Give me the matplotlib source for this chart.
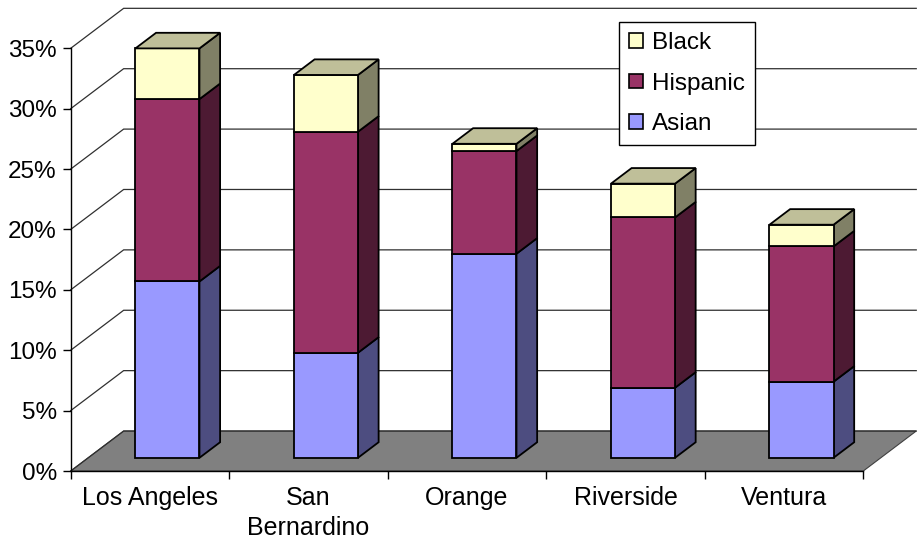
import matplotlib
matplotlib.use("Agg")
import matplotlib.pyplot as plt
from matplotlib.patches import Polygon, Patch
from matplotlib.ticker import FixedLocator, FuncFormatter, NullFormatter

plt.rcParams["font.family"] = ["Liberation Sans", "DejaVu Sans"]

# Share of population by group, percent
counties = ["Los Angeles", "San\nBernardino", "Orange", "Riverside", "Ventura"]
asian = [14.6, 8.7, 16.9, 5.8, 6.3]
hispanic = [15.1, 18.3, 8.5, 14.1, 11.2]
black = [4.2, 4.7, 0.6, 2.8, 1.8]
y_ticks = [0, 5, 10, 15, 20, 25, 30, 35]

series = [
    ("Asian", asian, "#9999FF", "#4D4D80", None),
    ("Hispanic", hispanic, "#993366", "#4D1A33", None),
    ("Black", black, "#FFFFCC", "#808066", "#BFBF99"),
]

# oblique depth of the floor, in data units (categories, percent)
DX, DY = 0.334, 3.31
F0, F1 = 0.33, 0.72          # front and back of the bars within the depth
HALF = 0.202                 # half bar width
FS = 17.5

W, H = 919, 541
fig = plt.figure(figsize=(W / 100, H / 100), dpi=100)
ax = fig.add_axes([70.7 / W, (H - 471) / H, (863.3 - 70.7) / W, (471 - 48.3) / H])
ax.set_xlim(0, len(counties))
ax.set_ylim(0, 35)
ax.patch.set_visible(False)

n = len(counties)

# floor
ax.add_patch(Polygon([(0, 0), (n, 0), (n + DX, DY), (DX, DY)], closed=True,
                     facecolor="#808080", edgecolor="#404040", lw=0.8,
                     zorder=0.5, clip_on=False))

# gridlines: diagonal on the side, then across the back wall
for v in y_ticks:
    ax.plot([0, DX, n + DX], [v, v + DY, v + DY], color="#303030", lw=0.9,
            zorder=0.6, clip_on=False, solid_joinstyle="miter")


def shift(x, y, f):
    return (x + f * DX, y + f * DY)


for i in range(n):
    xl, xr = i + 0.5 - HALF, i + 0.5 + HALF
    base = 0.0
    for k, (name, vals, front, side, top) in enumerate(series):
        y0, y1 = base, base + vals[i]
        ax.add_patch(Polygon([shift(xr, y0, F0), shift(xr, y0, F1),
                              shift(xr, y1, F1), shift(xr, y1, F0)],
                             closed=True, facecolor=side, edgecolor="black",
                             lw=1.3, zorder=3, clip_on=False, joinstyle="miter"))
        ax.add_patch(Polygon([shift(xl, y0, F0), shift(xr, y0, F0),
                              shift(xr, y1, F0), shift(xl, y1, F0)],
                             closed=True, facecolor=front, edgecolor="black",
                             lw=1.3, zorder=3.1, clip_on=False, joinstyle="miter"))
        if top is not None:
            ax.add_patch(Polygon([shift(xl, y1, F0), shift(xr, y1, F0),
                                  shift(xr, y1, F1), shift(xl, y1, F1)],
                                 closed=True, facecolor=top, edgecolor="black",
                                 lw=1.3, zorder=3.2, clip_on=False,
                                 joinstyle="miter"))
        base = y1

# axes
for s in ("top", "right"):
    ax.spines[s].set_visible(False)
for s in ("left", "bottom"):
    ax.spines[s].set_color("black")
    ax.spines[s].set_linewidth(1.0)
    ax.spines[s].set_zorder(4)

ax.yaxis.set_major_locator(FixedLocator(y_ticks))
ax.yaxis.set_major_formatter(FuncFormatter(lambda v, p: f"{v:.0f}%"))
ax.tick_params(axis="y", which="major", direction="out", length=5.5,
               width=1.0, pad=4.5, labelsize=FS, colors="black")

ax.xaxis.set_major_locator(FixedLocator(list(range(n + 1))))
ax.xaxis.set_major_formatter(NullFormatter())
ax.xaxis.set_minor_locator(FixedLocator([i + 0.5 for i in range(n)]))
ax.set_xticklabels(counties, minor=True, fontsize=18, linespacing=1.28)
ax.tick_params(axis="x", which="major", direction="out", length=5.5, width=1.0)
ax.tick_params(axis="x", which="minor", length=0, pad=11)

handles = [Patch(facecolor=fc, edgecolor="black", lw=1.2, label=name)
           for name, vals, fc, sc, tc in reversed(series)]
leg = ax.legend(handles=handles, loc="upper left",
                bbox_to_anchor=(619 / W, 1 - 22 / H), bbox_transform=fig.transFigure,
                frameon=True, fancybox=False, edgecolor="black", framealpha=1,
                fontsize=FS, handlelength=0.55, handleheight=0.55,
                handletextpad=0.4, labelspacing=0.76, borderpad=0.42,
                borderaxespad=0)
leg.get_frame().set_linewidth(1.0)
leg.set_zorder(10)

fig.savefig("out.png", dpi=100)
